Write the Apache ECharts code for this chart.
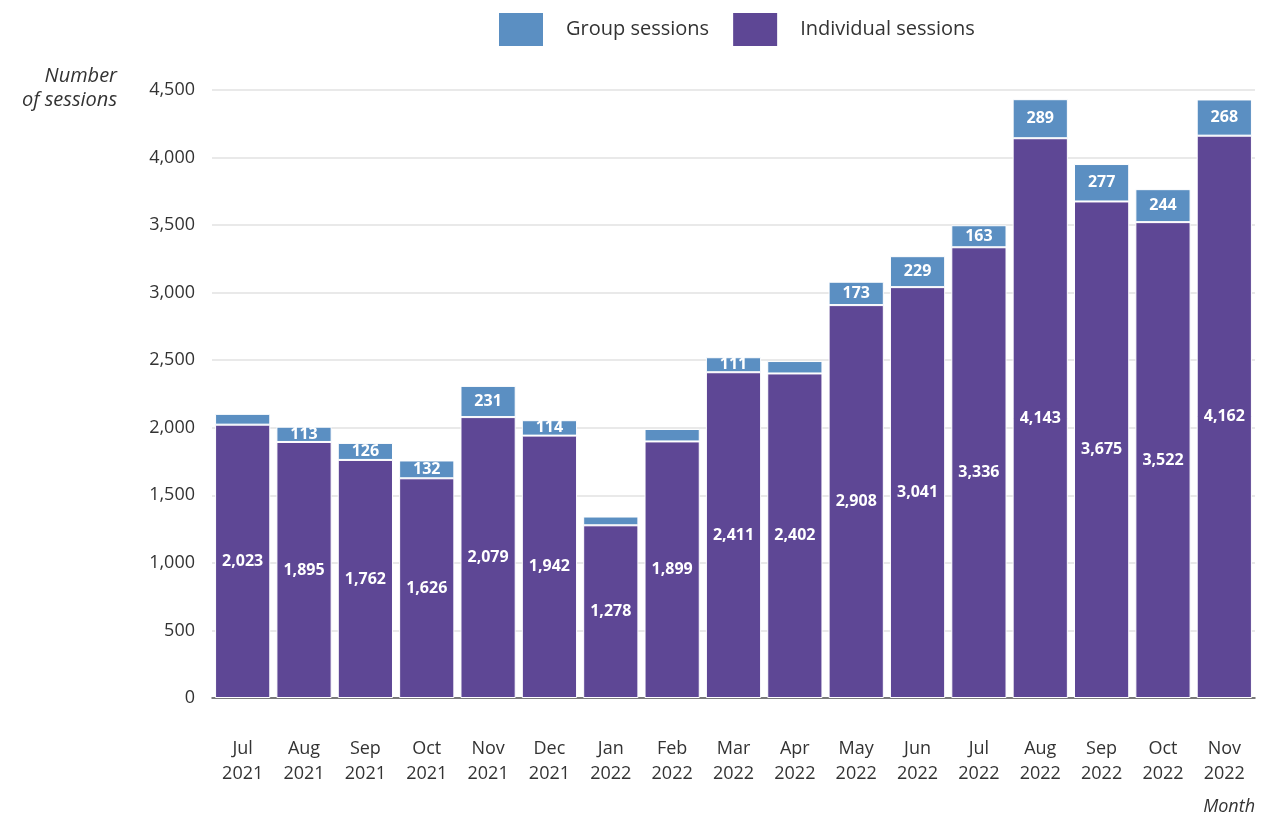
<!DOCTYPE html>
<html><head><meta charset="utf-8">
<script src="https://cdn.jsdelivr.net/npm/echarts@6/dist/echarts.min.js"></script>
<style>html,body{margin:0;padding:0;background:#fff}#c{width:1271px;height:821px}</style>
</head><body><div id="c"></div>
<script>
const categories = ['Jul\n2021','Aug\n2021','Sep\n2021','Oct\n2021','Nov\n2021','Dec\n2021','Jan\n2022','Feb\n2022','Mar\n2022','Apr\n2022','May\n2022','Jun\n2022','Jul\n2022','Aug\n2022','Sep\n2022','Oct\n2022','Nov\n2022'];
const individual = [2023,1895,1762,1626,2079,1942,1278,1899,2411,2402,2908,3041,3336,4143,3675,3522,4162];
const group = [80,113,126,132,231,114,65,92,111,92,173,229,163,289,277,244,268];
const yTicks = [0,500,1000,1500,2000,2500,3000,3500,4000,4500];

const font = 'Open Sans';
const chart = echarts.init(document.getElementById('c'));
const fmt = v => v.toLocaleString('en-US');
chart.setOption({
  animation:false,
  textStyle:{fontFamily:font},
  legend:{
    top:6, left:492, itemWidth:46, itemHeight:35, itemGap:22,
    textStyle:{fontSize:20, color:'#333', fontFamily:font, padding:[0,0,0,17]},
    data:['Group sessions','Individual sessions'], icon:'rect'
  },
  graphic:[{
    type:'text', x:117, y:64,
    style:{text:'Number\nof sessions', fill:'#333', font:'italic 20px "Open Sans"', align:'right', verticalAlign:'top', lineHeight:24}
  }],
  grid:{left:212, right:16, top:90, bottom:123},
  xAxis:{
    type:'category', data:categories,
    axisLine:{lineStyle:{color:'#555', width:1.5}},
    axisTick:{show:false},
    axisLabel:{fontSize:18, color:'#333', lineHeight:25, margin:38, interval:0},
    name:'Month', nameLocation:'end', nameGap:0,
    nameTextStyle:{fontStyle:'italic', fontSize:18, color:'#333', align:'right', verticalAlign:'top', padding:[100,0,0,0]}
  },
  yAxis:{
    type:'value', min:0, max:4500, interval:500,
    axisLine:{show:false}, axisTick:{show:false},
    splitLine:{lineStyle:{color:'#e2e2e2', width:1.5}},
    axisLabel:{fontSize:18, color:'#333', margin:17, formatter:v=>fmt(v)}
  },
  series:[
    {name:'Individual sessions', type:'bar', stack:'s', data:individual, barCategoryGap:'10%',
     itemStyle:{color:'#5e4795', borderColor:'#fff', borderWidth:1},
     label:{show:true, position:'inside', color:'#fff', fontWeight:'bold', fontSize:16, formatter:p=>fmt(p.value)}},
    {name:'Group sessions', type:'bar', stack:'s', data:group, barCategoryGap:'10%',
     itemStyle:{color:'#5b8fc2', borderColor:'#fff', borderWidth:1},
     label:{show:true, position:'inside', color:'#fff', fontWeight:'bold', fontSize:16,
       formatter:p=>p.value>=100?fmt(p.value):''}}
  ]
});
</script></body></html>
